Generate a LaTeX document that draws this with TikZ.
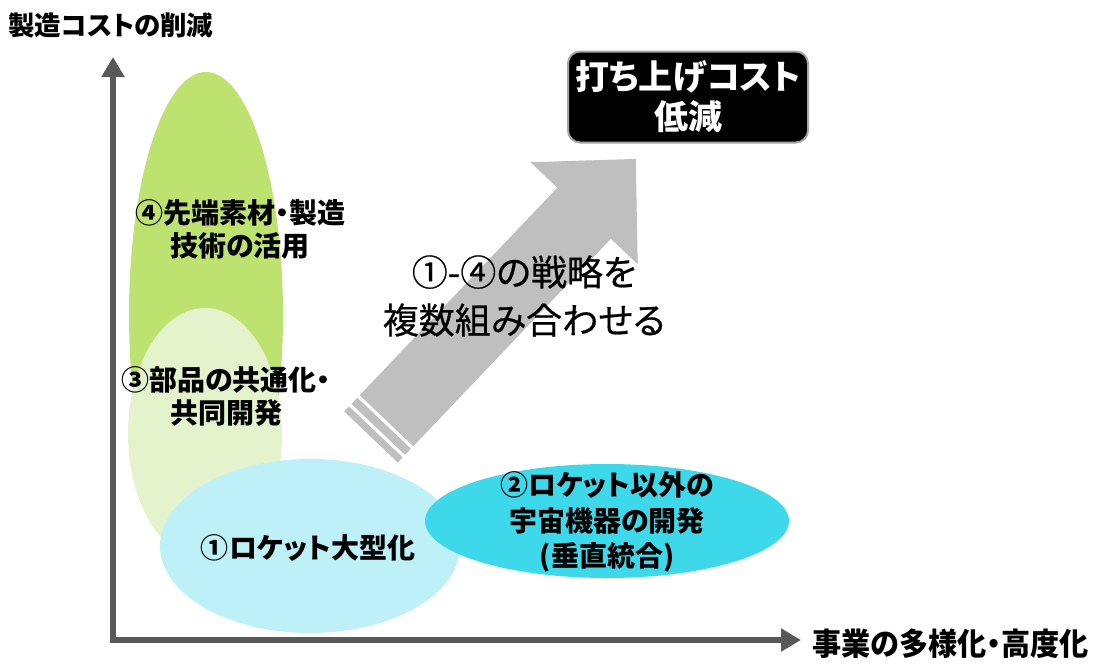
\documentclass[tikz,border=0pt]{standalone}
\usepackage{fontspec}
\usetikzlibrary{arrows.meta}
\newfontfamily\jp[RawFeature=+palt]{Noto Sans CJK JP}
\newfontfamily\jpm[RawFeature=+palt,FakeBold=0.5]{Noto Sans CJK JP}
\definecolor{axisgray}{HTML}{595959}
\definecolor{arrgray}{HTML}{BFBFBF}
\definecolor{greenA}{HTML}{BDE26F}
\definecolor{greenB}{HTML}{E5F3CD}
\definecolor{cyanA}{HTML}{BDF1F7}
\definecolor{cyanB}{HTML}{3DD9EA}
\begin{document}
\begin{tikzpicture}[x=1pt,y=-1pt,
  axis/.style={draw=axisgray,line width=6pt,-{Triangle[length=20pt,width=22pt]}},
  lbl/.style={font=\jp\bfseries\fontsize{28}{33}\selectfont,align=center,inner sep=0pt},
  axlbl/.style={font=\jp\bfseries\fontsize{31}{34}\selectfont,inner sep=0pt},
  big/.style={font=\jpm\fontsize{36}{48}\selectfont,align=center,inner sep=0pt}]
\useasboundingbox (0,0) rectangle (1094,665);
% ellipses
\fill[greenA] (206,315) ellipse [x radius=77pt, y radius=243pt];
\fill[greenB] (205,434) ellipse [x radius=77pt, y radius=126pt];
\fill[cyanA] (310,546) ellipse [x radius=150pt, y radius=87pt];
\fill[cyanB] (607,521) ellipse [x radius=182pt, y radius=57pt];
% axes
\coordinate (o) at (113,640);
\coordinate (ytip) at (113,57);
\coordinate (xtip) at (801,640);
\draw[axis] ([yshift=3pt]o) -- (ytip);
\draw[axis] ([xshift=-3pt]o) -- (xtip);
% striped block arrow
\begin{scope}[shift={(371,437)}, rotate=46.4]
  \fill[arrgray] (0,-37) rectangle (7,37);
  \fill[arrgray] (10.5,-37) rectangle (19,37);
  \fill[arrgray] (22.5,-37) -- (309,-37) -- (309,-74) -- (384,0) -- (309,74) -- (309,37) -- (22.5,37) -- cycle;
\end{scope}
% labels
\node[font=\jp\bfseries\fontsize{26.5}{30}\selectfont,anchor=west,inner sep=0pt] (ylab) at (8,25) {製造コストの削減};
\node[axlbl,anchor=west,xscale=0.94] (xlab) at (812,644) {事業の多様化・高度化};
\node[fill=black,draw=gray!70,line width=2pt,rounded corners=12pt,minimum width=240pt,minimum height=91pt,
  text=white,font=\jp\bfseries\fontsize{34}{40}\selectfont,align=center,inner sep=0pt] (goal) at (688,97) {打ち上げコスト\\低減};
\node[lbl] (s4) at (240,229) {④先端素材・製造\\技術の活用};
\node[lbl] (s3) at (226,396) {③部品の共通化・\\共同開発};
\node[lbl] (s1) at (308,548) {①ロケット大型化};
\node[lbl,font=\jp\bfseries\fontsize{28}{35.5}\selectfont] (s2) at (607,522) {②ロケット以外の\\宇宙機器の開発\\(垂直統合)};
\node[big] (mix) at (524,296) {①-④の戦略を\\複数組み合わせる};
\end{tikzpicture}
\end{document}
